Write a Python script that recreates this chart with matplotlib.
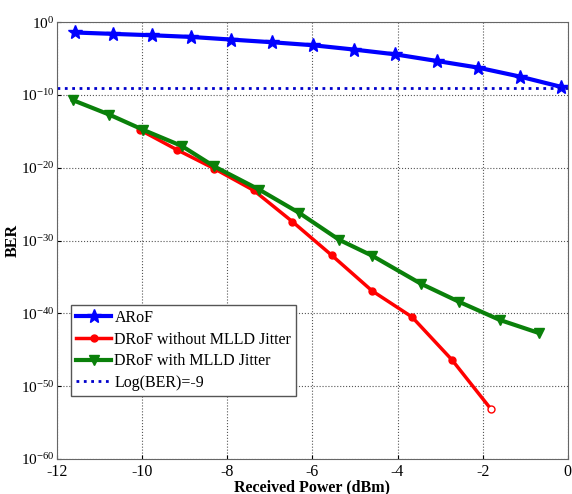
import matplotlib
matplotlib.use("Agg")
import matplotlib.pyplot as plt
import numpy as np

# Données (puissance en dBm, exposant du BER)
arof_x = [-11.58, -10.69, -9.77, -8.85, -7.92, -6.95, -5.99, -5.03, -4.07, -3.08, -2.12, -1.13, -0.15]
arof_exp = [-1.41, -1.6, -1.79, -2.02, -2.38, -2.75, -3.16, -3.75, -4.40, -5.32, -6.22, -7.46, -8.89]

drof_nojit_x = [-10.05, -9.19, -8.31, -7.38, -6.47, -5.55, -4.60, -3.66, -2.72, -1.80]
drof_nojit_exp = [-14.8, -17.5, -20.1, -23.1, -27.4, -32.0, -36.9, -40.5, -46.4, -53.2]

drof_jit_x = [-11.63, -10.77, -9.97, -9.07, -8.31, -7.25, -6.31, -5.37, -4.59, -3.46, -2.56, -1.60, -0.68]
drof_jit_exp = [-10.7, -12.7, -14.8, -17.0, -19.8, -23.0, -26.2, -29.9, -32.1, -35.9, -38.4, -40.9, -42.7]

seuil_ber = 1e-9

plt.rcParams['font.family'] = ['Liberation Serif', 'DejaVu Serif']
plt.rcParams['mathtext.fontset'] = 'custom'
plt.rcParams['mathtext.rm'] = 'Liberation Serif'
plt.rcParams['axes.unicode_minus'] = False

fig = plt.figure(figsize=(5.72, 4.94), dpi=100)
ax = fig.add_axes([0.0997, 0.071, 0.893, 0.884])

ax.semilogy(arof_x, 10.0 ** np.array(arof_exp), color='#0000ff', lw=3,
            marker='*', ms=10, label='ARoF')
ax.semilogy(drof_nojit_x[:-1], 10.0 ** np.array(drof_nojit_exp[:-1]), color='#ff0000', lw=2.5,
            marker='o', ms=5, label='DRoF without MLLD Jitter')
ax.semilogy(drof_nojit_x[-2:], 10.0 ** np.array(drof_nojit_exp[-2:]), color='#ff0000', lw=2.5,
            marker='o', ms=5, mfc='white', markevery=[1])
ax.semilogy(drof_jit_x, 10.0 ** np.array(drof_jit_exp), color='#0a800a', lw=3,
            marker='v', ms=7, label='DRoF with MLLD Jitter')
ax.axhline(seuil_ber, color='#0000cc', lw=2, ls=':', label='Log(BER)=-9')

ax.set_xlim(-12, 0)
ax.set_ylim(1e-60, 1)
ax.set_xticks(np.arange(-12, 1, 2))
ax.set_xticklabels(['%d' % v for v in np.arange(-12, 1, 2)])
yt = list(range(-60, 1, 10))
ax.set_yticks([10.0 ** k for k in yt])
ax.set_yticklabels([r'$\mathrm{10^{%s}}$' % ('-' + str(-k) if k < 0 else '0') for k in yt])
ax.yaxis.set_minor_locator(matplotlib.ticker.NullLocator())
ax.grid(True, which='major', color='#555555', ls=':', lw=0.8)
ax.tick_params(direction='in', length=3)
ax.tick_params(axis='x', labelsize=11.5, pad=4)
ax.tick_params(axis='y', labelsize=11, pad=2)
for s in ax.spines.values():
    s.set_color('#666666')

ax.set_xlabel('Received Power (dBm)', fontsize=11.5, fontweight='bold', labelpad=-1)
ax.set_ylabel('BER', fontsize=11.5, fontweight='bold')
ax.yaxis.set_label_coords(-0.072, 0.5)

leg = ax.legend(loc='lower left', bbox_to_anchor=(0.028, 0.145), fontsize=11.5,
                fancybox=False, framealpha=1, edgecolor='#555555', handlelength=2.2,
                handletextpad=0.2, borderpad=0.3, labelspacing=0.35, borderaxespad=0)

fig.savefig('out.png', dpi=100)
